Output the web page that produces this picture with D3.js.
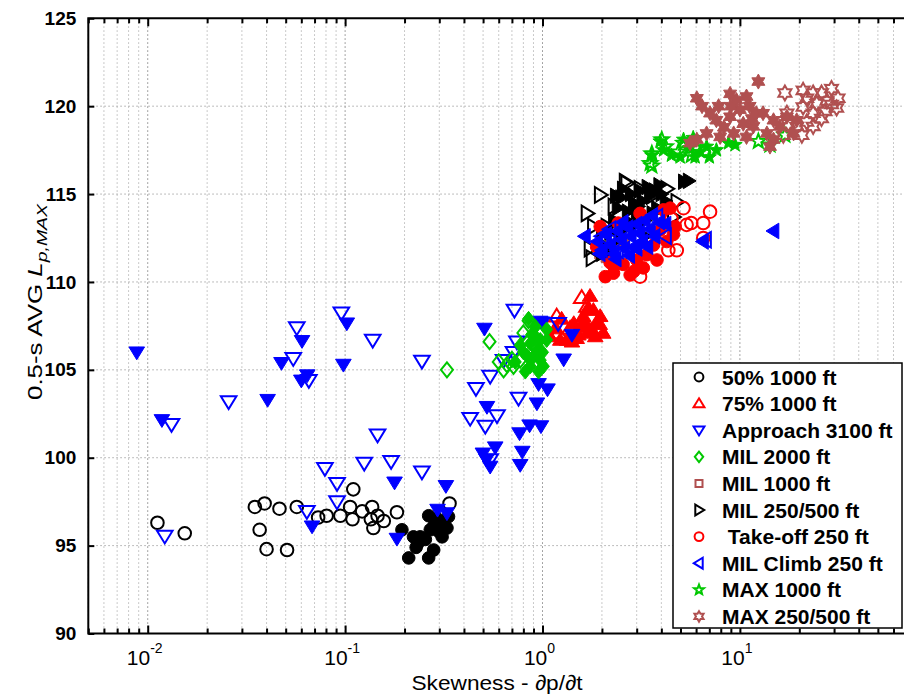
<!DOCTYPE html>
<html>
<head>
<meta charset="utf-8">
<script src="https://cdn.jsdelivr.net/npm/d3@7"></script>
<style>
  body { margin: 0; background: #fff; overflow: hidden; }
  svg { display: block; font-family: "Liberation Sans", Arial, Helvetica, sans-serif; }
</style>
</head>
<body>
<script>
// values: [skewness dp/dt, 0.5-s AVG Lp,max]
const pct50Open = [[0.0112,96.3],[0.0154,95.7],[0.0349,97.2],[0.0391,97.4],[0.0369,95.9],[0.040,94.8],[0.0508,94.75],[0.0465,97.1],[0.0569,97.2],[0.073,96.6],[0.0806,96.7],[0.0946,96.7],[0.106,97.2],[0.110,98.2],[0.109,96.5],[0.122,96.95],[0.137,97.2],[0.135,96.5],[0.146,96.7],[0.139,96.0],[0.157,96.4],[0.183,96.9],[0.338,97.4]];
const pct50Filled = [[0.194,95.9],[0.222,95.5],[0.229,94.9],[0.210,94.3],[0.265,96.7],[0.270,95.9],[0.255,95.35],[0.265,94.3],[0.281,94.75],[0.303,96.2],[0.310,95.5],[0.334,96.65],[0.328,96.0],[0.240,95.5],[0.281,96.1],[0.292,96.55],[0.233,95.1],[0.298,95.8]];

const pct75Open = [[1.58,109.1],[1.18,108.05],[1.38,107.35],[1.20,107.1],[1.96,107.3],[1.68,108.6]];
const pct75Filled = [[1.74,109.2],[1.81,108.4],[1.09,106.9],[1.33,106.7],[1.44,107.65],[1.55,107.45],[1.68,107.1],[1.88,107.65],[1.96,108.05],[1.16,107.35],[1.49,106.8],[1.78,107.3],[1.61,108.05],[1.70,108.5],[2.03,107.1],[1.41,106.6],[1.23,106.7],[1.25,107.9],[1.52,107.0],[1.85,106.9],[1.65,107.7],[1.95,107.6]];

const approachOpen = [[0.0132,101.9],[0.0122,95.55],[0.0257,103.2],[0.0957,108.25],[0.0569,107.4],[0.0546,105.65],[0.0655,104.4],[0.079,99.4],[0.125,99.7],[0.171,99.8],[0.245,99.2],[0.091,98.55],[0.091,97.5],[0.064,96.95],[0.721,108.4],[0.543,104.65],[0.46,103.95],[0.43,102.25],[0.513,101.8],[0.588,102.4],[0.543,99.9],[0.756,103.4],[1.2,107.65],[0.742,106.6],[0.713,106.0],[0.635,105.55],[0.138,106.7],[0.146,101.3],[0.245,105.5]];
const approachFilled = [[0.0088,106.0],[0.0118,102.15],[0.102,107.65],[0.0605,106.65],[0.0476,105.4],[0.0643,104.7],[0.060,104.4],[0.098,105.3],[0.0405,103.3],[0.068,96.1],[0.178,98.6],[0.183,95.4],[0.324,98.4],[0.294,97.05],[0.328,96.85],[0.508,107.35],[0.523,102.9],[0.576,100.6],[0.499,100.25],[0.543,99.5],[0.937,103.1],[0.765,101.4],[0.86,101.85],[0.982,101.8],[0.79,100.35],[0.771,99.6],[0.955,104.2],[1.06,103.9],[1.28,105.6],[1.41,107.0],[0.974,107.75],[1.0,107.7],[0.52,99.9]];

const mil2000Open = [[0.328,105.0],[0.539,106.6],[0.60,105.45],[0.66,105.3],[0.713,105.2],[0.635,105.0],[0.85,107.8],[0.80,107.1],[0.834,106.1],[0.771,105.55],[0.70,105.6],[0.90,106.4]];
const mil2000Filled = [[0.85,107.9],[0.92,106.9],[0.974,106.7],[1.05,106.7],[0.867,106.5],[0.771,106.4],[0.90,105.75],[0.974,105.55],[0.867,105.2],[0.955,104.9],[1.01,105.2],[0.818,104.9],[0.728,105.45],[0.834,105.8],[0.92,107.45],[1.05,107.3],[0.95,106.2],[1.0,106.0],[0.88,107.0],[0.8,106.0]];

const mil1000Open = [[2.0,112.3]];
const mil1000Filled = [[1.95,111.6],[2.1,111.4],[2.3,111.9],[2.6,112.2]];

const mil250Open = [[2.62,115.7],[3.12,115.3],[1.96,114.95],[1.68,113.9],[1.74,111.9],[2.67,115.6],[4.26,115.3],[2.12,113.15],[1.81,113.15],[4.79,114.55],[4.6,113.7],[1.78,111.35],[2.3,114.3],[3.6,114.9]];
const mil250Filled = [[2.1,112.0],[2.2,112.8],[2.3,113.5],[2.4,114.2],[2.5,114.8],[2.6,113.0],[2.7,114.0],[2.8,115.0],[2.9,114.5],[3.0,113.8],[3.1,115.2],[3.2,114.6],[3.3,113.5],[3.4,115.4],[3.5,114.9],[3.7,115.2],[3.9,115.5],[2.0,111.6],[2.2,111.8],[2.45,112.5],[2.9,113.2],[3.3,112.6],[5.2,115.7],[5.5,115.75],[4.2,114.6],[3.8,114.2],[2.55,115.3],[2.0,113.0],[2.35,114.9],[2.75,113.4],[3.05,114.3],[3.6,113.9],[4.0,115.0]];

const takeoffOpen = [[5.18,114.2],[7.06,114.0],[6.52,113.35],[5.37,113.25],[4.34,111.8],[4.79,111.8],[3.12,110.3],[6.52,112.5],[5.67,113.35],[4.5,113.6]];
const takeoffFilled = [[4.43,114.2],[4.1,114.1],[3.12,113.9],[4.7,113.15],[4.6,112.7],[2.08,110.3],[2.29,110.5],[2.78,110.4],[3.24,110.8],[3.8,111.25],[3.37,111.55],[2.56,111.0],[2.2,111.1],[1.88,112.0],[2.42,113.35],[1.96,113.15],[3.94,112.95],[4.26,112.3],[3.0,111.25],[3.65,112.1],[2.9,110.6],[2.3,110.9]];

const climbOpen = [[2.0,112.6],[2.4,111.8],[2.9,113.0],[4.2,112.6],[3.8,113.7],[6.7,112.4],[2.2,113.0]];
const climbFilled = [[1.64,112.6],[1.9,112.3],[2.0,111.8],[2.1,112.7],[2.2,112.1],[2.3,111.6],[2.4,112.9],[2.5,112.4],[2.6,111.9],[2.7,113.1],[2.8,112.6],[2.9,112.0],[3.0,113.3],[3.1,112.8],[3.2,112.3],[3.3,113.5],[3.5,113.0],[3.7,112.6],[3.9,113.4],[2.35,111.3],[2.75,111.5],[3.0,111.9],[3.4,112.0],[4.2,113.3],[6.5,112.3],[14.8,112.9],[1.95,111.6],[2.55,113.4],[3.6,113.8]];

const max1000Open = [[3.58,117.3],[3.51,116.75],[4.02,118.1],[4.2,117.7],[4.88,117.4],[5.18,117.9],[5.67,117.2],[6.05,117.6],[12.4,118.0],[14.2,117.8],[16.9,118.35],[3.58,116.6]];
const max1000Filled = [[3.94,118.0],[4.1,117.5],[3.58,117.2],[5.18,118.1],[4.98,117.1],[5.93,117.1],[6.78,117.7],[7.6,117.5],[8.76,117.9],[9.45,117.8],[5.5,117.6],[6.29,117.4],[7.0,117.1],[4.5,117.2],[5.8,118.2]];

const max250Open = [[16.9,120.75],[20.9,120.9],[23.5,120.75],[25.9,120.75],[29.1,121.0],[31.4,120.45],[30.9,119.9],[27.6,120.3],[24.5,120.15],[21.8,120.45],[20.9,119.95],[23.5,119.6],[27.0,119.7],[21.8,119.1],[19.4,118.85],[17.6,119.0],[16.6,118.35],[20.6,118.35],[23.5,118.85],[25.9,119.3],[29.1,120.1],[17.3,119.6]];
const max250Filled = [[12.4,121.4],[6.05,120.45],[6.43,120.0],[8.92,120.7],[10.8,120.55],[7.8,120.0],[10.0,119.8],[11.2,120.0],[12.1,119.6],[8.92,119.4],[7.6,119.2],[10.4,119.0],[11.7,118.85],[9.3,118.45],[6.78,118.45],[6.05,118.1],[5.59,117.9],[7.94,118.25],[10.8,118.25],[13.7,118.45],[14.8,118.1],[15.9,118.85],[17.3,119.4],[19.4,119.2],[14.8,119.2],[18.7,118.45],[14.2,117.7],[13.1,119.6],[9.6,120.35],[7.06,119.6],[9.0,120.0],[8.3,118.8],[11.5,119.3]];

const legendNames = ["50% 1000 ft", "75% 1000 ft", "Approach 3100 ft", "MIL 2000 ft", "MIL 1000 ft",
  "MIL 250/500 ft", " Take-off 250 ft", "MIL Climb 250 ft", "MAX 1000 ft", "MAX 250/500 ft"];
const yTicks = [90, 95, 100, 105, 110, 115, 120, 125];
const xDecades = [0.01, 0.1, 1, 10];

const series = [
  { name: legendNames[0], color: "#000000", shape: "circle",  open: pct50Open,    filled: pct50Filled },
  { name: legendNames[1], color: "#ff0000", shape: "up",      open: pct75Open,    filled: pct75Filled },
  { name: legendNames[2], color: "#0000ff", shape: "down",    open: approachOpen, filled: approachFilled },
  { name: legendNames[3], color: "#00c800", shape: "diamond", open: mil2000Open,  filled: mil2000Filled },
  { name: legendNames[4], color: "#b05050", shape: "square",  open: mil1000Open,  filled: mil1000Filled },
  { name: legendNames[5], color: "#000000", shape: "right",   open: mil250Open,   filled: mil250Filled },
  { name: legendNames[6], color: "#ff0000", shape: "circle",  open: takeoffOpen,  filled: takeoffFilled },
  { name: legendNames[7], color: "#0000ff", shape: "left",    open: climbOpen,    filled: climbFilled },
  { name: legendNames[8], color: "#00c800", shape: "star",    open: max1000Open,  filled: max1000Filled },
  { name: legendNames[9], color: "#b05050", shape: "hexagram",open: max250Open,   filled: max250Filled }
];

const width = 904, height = 696;
const mLeft = 88.3, mTop = 18.3, mBottom = 633.5;

const x = d3.scaleLog().domain([0.005, 100]).range([mLeft, 937.3]);
const y = d3.scaleLinear().domain([90, 125]).range([mBottom, mTop]);

const svg = d3.select("body").append("svg")
  .attr("width", width).attr("height", height)
  .attr("viewBox", [0, 0, width, height]);

// marker outlines, MATLAB-like
function star(n, ro, ri) {
  const pts = [];
  for (let i = 0; i < 2 * n; i++) {
    const a = -Math.PI / 2 + i * Math.PI / n;
    const r = i % 2 ? ri : ro;
    pts.push([r * Math.cos(a), r * Math.sin(a)]);
  }
  return pts;
}
function markerPath(shape, k) {
  let pts;
  if (shape === "circle") {
    const r = 6.3 * k;
    return `M${r},0A${r},${r} 0 1,1 ${-r},0A${r},${r} 0 1,1 ${r},0Z`;
  }
  if (shape === "up") pts = [[0, -7.5], [7.8, 5.3], [-7.8, 5.3]];
  if (shape === "down") pts = [[-7.8, -5.3], [7.8, -5.3], [0, 7.5]];
  if (shape === "right") pts = [[-5.3, -7.8], [7.5, 0], [-5.3, 7.8]];
  if (shape === "left") pts = [[5.3, -7.8], [5.3, 7.8], [-7.5, 0]];
  if (shape === "diamond") pts = [[0, -7.5], [6, 0], [0, 7.5], [-6, 0]];
  if (shape === "square") pts = [[-5, -5], [5, -5], [5, 5], [-5, 5]];
  if (shape === "star") pts = star(5, 7.5, 3.2);
  if (shape === "hexagram") pts = star(6, 7.5, 4.3);
  return "M" + pts.map(p => [p[0] * k, p[1] * k].join(",")).join("L") + "Z";
}

// grid
const grid = svg.append("g");
const minorTicks = [];
for (let e = -3; e <= 1; e++) {
  for (let m = 1; m <= 9; m++) {
    const v = +(m * Math.pow(10, e)).toPrecision(3);
    if (v >= 0.005 && v <= 100) minorTicks.push(v);
  }
}
grid.selectAll("line.vx").data(minorTicks).join("line")
  .attr("x1", d => x(d)).attr("x2", d => x(d))
  .attr("y1", mTop).attr("y2", mBottom)
  .attr("stroke", d => xDecades.includes(d) ? "#888" : "#b8b8b8")
  .attr("stroke-width", 1)
  .attr("stroke-dasharray", "1.5,2.5");
grid.selectAll("line.hy").data(yTicks.slice(1, -1)).join("line")
  .attr("x1", mLeft).attr("x2", width)
  .attr("y1", d => y(d)).attr("y2", d => y(d))
  .attr("stroke", "#a8a8a8")
  .attr("stroke-width", 1)
  .attr("stroke-dasharray", "1.5,2.5");

// points
const marks = svg.append("g");
series.forEach(s => {
  marks.append("g").selectAll("path").data(s.open).join("path")
    .attr("d", markerPath(s.shape, 1))
    .attr("transform", d => `translate(${x(d[0])},${y(d[1])})`)
    .attr("fill", "none")
    .attr("stroke", s.color)
    .attr("stroke-width", 2);
  marks.append("g").selectAll("path").data(s.filled).join("path")
    .attr("d", markerPath(s.shape, 1))
    .attr("transform", d => `translate(${x(d[0])},${y(d[1])})`)
    .attr("fill", s.color)
    .attr("stroke", s.color)
    .attr("stroke-width", 1);
});

// axes
const xAxis = svg.append("g").attr("transform", `translate(0,${mBottom})`)
  .call(d3.axisBottom(x).tickValues(minorTicks).tickSize(0).tickFormat(""));
xAxis.select(".domain").remove();
const xTop = svg.append("g").attr("transform", `translate(0,${mTop})`)
  .call(d3.axisTop(x).tickValues(minorTicks).tickSize(0).tickFormat(""));
xTop.select(".domain").remove();
[[xAxis, -1], [xTop, 1]].forEach(([g, dir]) => {
  g.selectAll(".tick line")
    .attr("y2", d => dir * (xDecades.includes(d) ? 8 : 5))
    .attr("stroke", "#000").attr("stroke-width", 2);
});

const yAxis = svg.append("g").attr("transform", `translate(${mLeft},0)`)
  .call(d3.axisLeft(y).tickValues(yTicks).tickSize(0).tickPadding(12).tickFormat(d3.format("d")));
yAxis.select(".domain").remove();
yAxis.selectAll(".tick line").attr("x2", 6).attr("stroke", "#000").attr("stroke-width", 2);
yAxis.selectAll(".tick text")
  .attr("font-size", 19).attr("font-weight", "bold").attr("fill", "#000")
  .attr("font-family", "'Liberation Sans', Arial, sans-serif");

// box
svg.append("path")
  .attr("d", `M${width + 5},${mTop}H${mLeft}V${mBottom}H${width + 5}`)
  .attr("fill", "none").attr("stroke", "#000").attr("stroke-width", 2);

// decade labels 10^k
const xl = svg.append("g").selectAll("text").data(xDecades).join("text")
  .attr("x", d => x(d) - 3).attr("y", 665)
  .attr("text-anchor", "middle").attr("font-size", 21).attr("fill", "#000");
xl.append("tspan").text("10");
xl.append("tspan").attr("dy", -12).attr("font-size", 14).text(d => Math.round(Math.log10(d)));

// axis titles
svg.append("text")
  .attr("x", 497).attr("y", 690)
  .attr("text-anchor", "middle").attr("font-size", 21)
  .attr("textLength", 171).attr("lengthAdjust", "spacingAndGlyphs")
  .text("Skewness - \u2202p/\u2202t");

const yl = svg.append("text")
  .attr("transform", "translate(42,302) rotate(-90)")
  .attr("text-anchor", "middle").attr("font-size", 20)
  .attr("textLength", 196).attr("lengthAdjust", "spacingAndGlyphs");
yl.append("tspan").text("0.5-s AVG ");
yl.append("tspan").attr("font-style", "italic").text("L");
yl.append("tspan").attr("font-style", "italic").attr("font-size", 15).attr("dy", 5).text("p,MAX");

// legend
const lg = svg.append("g");
lg.append("rect")
  .attr("x", 673).attr("y", 363).attr("width", 229).attr("height", 265)
  .attr("fill", "#fff").attr("stroke", "#000").attr("stroke-width", 1.5);
const rows = lg.selectAll("g.row").data(series).join("g")
  .attr("transform", (d, i) => `translate(0,${377 + i * 26.6})`);
rows.append("path")
  .attr("d", d => markerPath(d.shape, 0.7))
  .attr("transform", "translate(699,0)")
  .attr("fill", "none").attr("stroke", d => d.color).attr("stroke-width", 2);
rows.append("text")
  .attr("x", 722).attr("y", 7.5)
  .attr("font-size", 21).attr("font-weight", "bold").attr("fill", "#000")
  .style("white-space", "pre")
  .text(d => d.name);
</script>
</body>
</html>
